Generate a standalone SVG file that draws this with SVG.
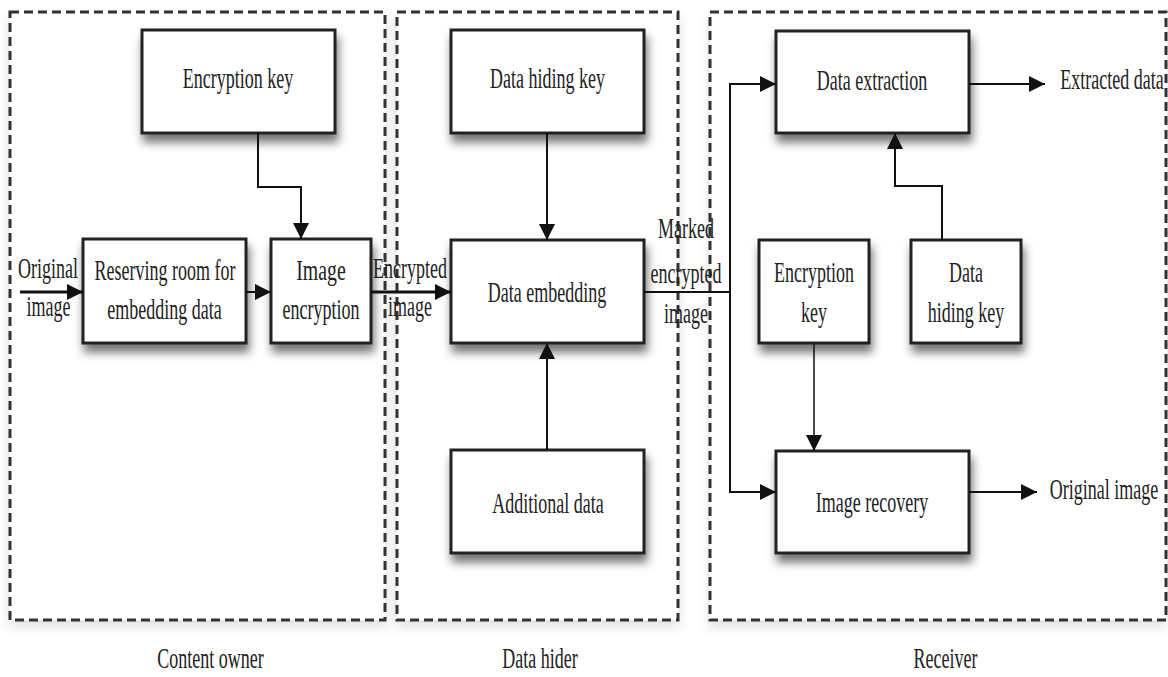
<svg xmlns="http://www.w3.org/2000/svg" width="1168" height="677" viewBox="0 0 1168 677">
<style>
.t{font-family:"Liberation Serif","Times New Roman",serif;font-size:30px;fill:#222;text-anchor:middle}
.box{fill:#fff;stroke:#222;stroke-width:3}
.grp{fill:#fff;stroke:#333;stroke-width:3;stroke-dasharray:9 5}
.c{fill:none;stroke:#111;stroke-width:2}
.thick{stroke-width:3}
.thin{stroke-width:1.5}
</style>
<defs>
<filter id="sh" x="-20%" y="-20%" width="140%" height="160%">
<feDropShadow dx="2" dy="8" stdDeviation="5" flood-color="#000" flood-opacity="0.55"/>
</filter>
<filter id="gsh" x="-10%" y="-10%" width="120%" height="120%">
<feDropShadow dx="0" dy="6" stdDeviation="6" flood-color="#000" flood-opacity="0.12"/>
</filter>
<marker id="ah" markerUnits="userSpaceOnUse" markerWidth="16" markerHeight="16" refX="16" refY="8" orient="auto">
<path d="M0,0 L16,8 L0,16 z" fill="#111"/>
</marker>
</defs>
<rect width="1168" height="677" fill="#fff"/>

<g id="group-content-owner">
<rect class="grp" x="10" y="12" width="375" height="608" filter="url(#gsh)"/>
<text class="t" transform="translate(210.5,668) scale(0.6,1)">Content owner</text>
</g>
<g id="group-data-hider">
<rect class="grp" x="397" y="12" width="281" height="608" filter="url(#gsh)"/>
<text class="t" transform="translate(540,668) scale(0.6,1)">Data hider</text>
</g>
<g id="group-receiver">
<rect class="grp" x="710" y="12" width="456" height="608" filter="url(#gsh)"/>
<text class="t" transform="translate(945.5,668) scale(0.6,1)">Receiver</text>
</g>

<g id="encryption-key-1">
<rect class="box" x="142" y="30" width="193" height="103" filter="url(#sh)"/>
<text class="t" transform="translate(238,88) scale(0.6,1)">Encryption key</text>
</g>
<g id="reserving-room">
<rect class="box" x="83" y="239" width="163" height="104" filter="url(#sh)"/>
<text class="t" transform="translate(165,280) scale(0.6,1)">Reserving room for</text>
<text class="t" transform="translate(164.5,319) scale(0.6,1)">embedding data</text>
</g>
<g id="image-encryption">
<rect class="box" x="271" y="239" width="100" height="104" filter="url(#sh)"/>
<text class="t" transform="translate(321,280) scale(0.66,1)">Image</text>
<text class="t" transform="translate(321,319) scale(0.6,1)">encryption</text>
</g>
<g id="data-hiding-key-1">
<rect class="box" x="451" y="30" width="193" height="103" filter="url(#sh)"/>
<text class="t" transform="translate(547.5,88) scale(0.6,1)">Data hiding key</text>
</g>
<g id="data-embedding">
<rect class="box" x="451" y="240" width="193" height="103" filter="url(#sh)"/>
<text class="t" transform="translate(547,302) scale(0.6,1)">Data embedding</text>
</g>
<g id="additional-data">
<rect class="box" x="451" y="450" width="193" height="103" filter="url(#sh)"/>
<text class="t" transform="translate(548,513) scale(0.6,1)">Additional data</text>
</g>
<g id="data-extraction">
<rect class="box" x="776" y="31" width="193" height="102" filter="url(#sh)"/>
<text class="t" transform="translate(872,90) scale(0.6,1)">Data extraction</text>
</g>
<g id="encryption-key-2">
<rect class="box" x="759" y="240" width="110" height="103" filter="url(#sh)"/>
<text class="t" transform="translate(814,282) scale(0.6,1)">Encryption</text>
<text class="t" transform="translate(814,322) scale(0.6,1)">key</text>
</g>
<g id="data-hiding-key-2">
<rect class="box" x="911" y="240" width="110" height="103" filter="url(#sh)"/>
<text class="t" transform="translate(966,282) scale(0.6,1)">Data</text>
<text class="t" transform="translate(966,322) scale(0.6,1)">hiding key</text>
</g>
<g id="image-recovery">
<rect class="box" x="776" y="451" width="193" height="102" filter="url(#sh)"/>
<text class="t" transform="translate(872,512) scale(0.6,1)">Image recovery</text>
</g>

<g id="connectors">
<path class="c thick" d="M20,292 H83" marker-end="url(#ah)"/>
<path class="c" d="M246,292 H271" marker-end="url(#ah)"/>
<path class="c" d="M258,133 V187 H301 V239" marker-end="url(#ah)"/>
<path class="c thick" d="M371,292 H451" marker-end="url(#ah)"/>
<path class="c" d="M547,133 V240" marker-end="url(#ah)"/>
<path class="c" d="M547,450 V343" marker-end="url(#ah)"/>
<path class="c" d="M644,292 H730 V84 H776" marker-end="url(#ah)"/>
<path class="c" d="M730,292 V492 H776" marker-end="url(#ah)"/>
<path class="c" d="M969,84 H1045" marker-end="url(#ah)"/>
<path class="c" d="M942,240 V186 H895 V133" marker-end="url(#ah)"/>
<path class="c thin" d="M814,343 V451" marker-end="url(#ah)"/>
<path class="c" d="M969,492 H1037" marker-end="url(#ah)"/>
</g>

<g id="labels">
<text class="t" transform="translate(48,278) scale(0.6,1)">Original</text>
<text class="t" transform="translate(48.5,316) scale(0.6,1)">image</text>
<text class="t" transform="translate(410,278) scale(0.6,1)">Encrypted</text>
<text class="t" transform="translate(410,316) scale(0.6,1)">image</text>
<text class="t" transform="translate(686,238) scale(0.6,1)">Marked</text>
<text class="t" transform="translate(686,283) scale(0.6,1)">encrypted</text>
<text class="t" transform="translate(686,323) scale(0.6,1)">image</text>
<text class="t" transform="translate(1112,89) scale(0.6,1)">Extracted data</text>
<text class="t" transform="translate(1104,499) scale(0.6,1)">Original image</text>
</g>
</svg>
